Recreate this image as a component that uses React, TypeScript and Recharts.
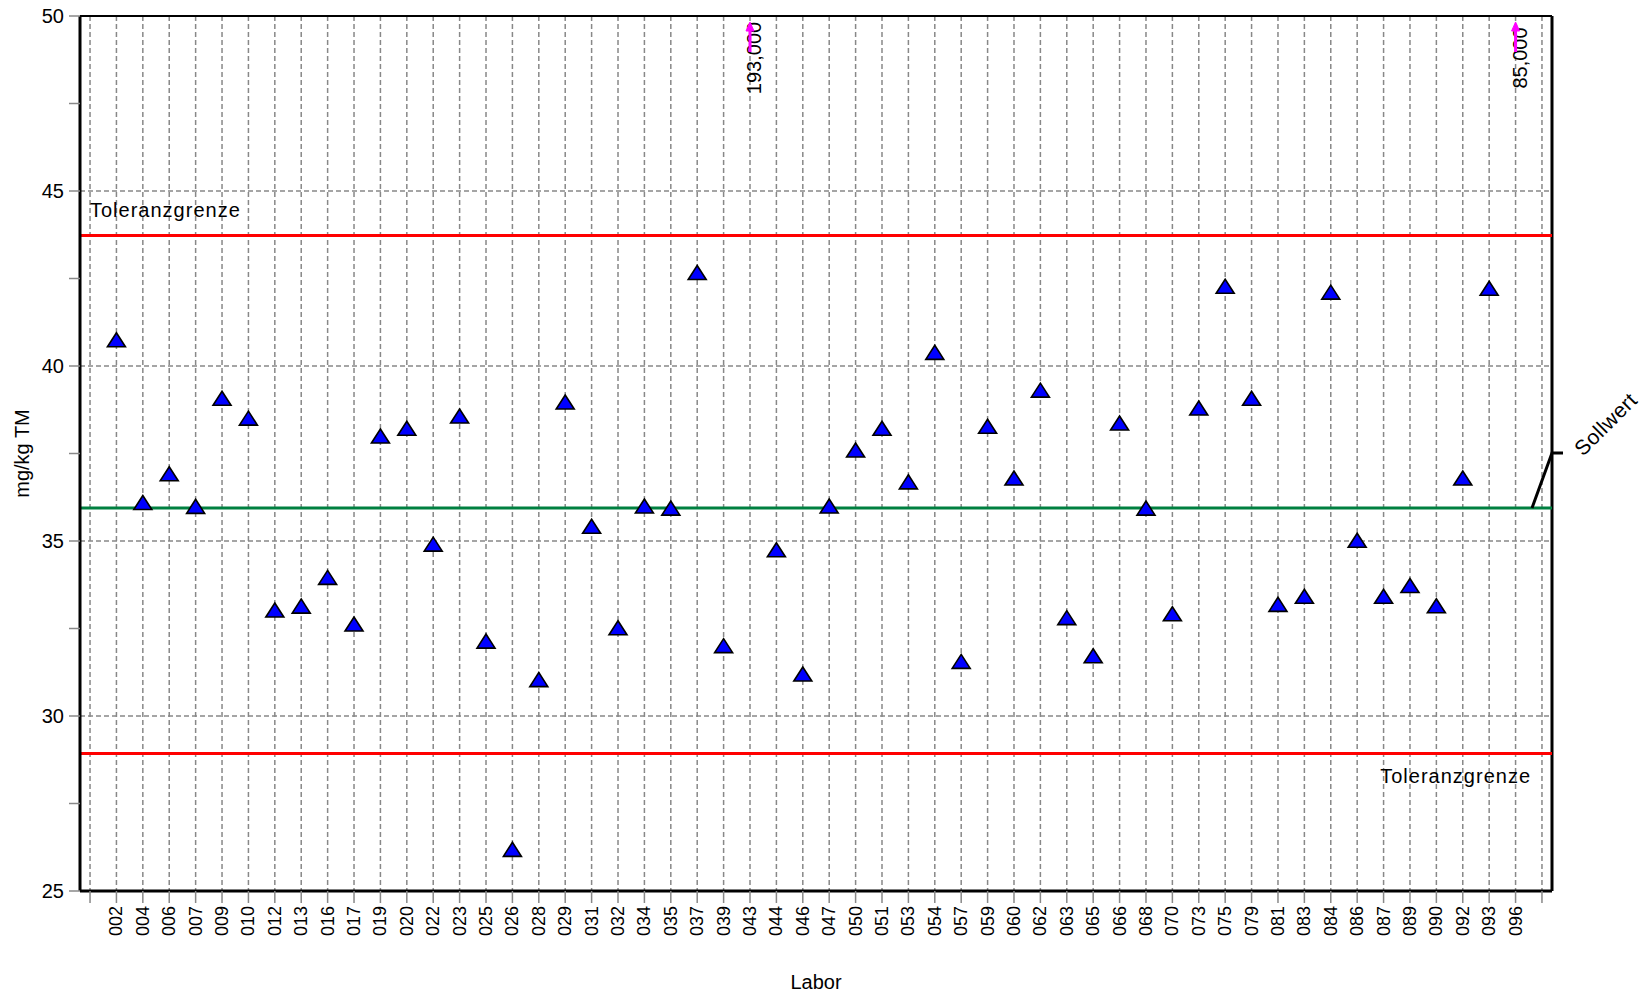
import React from "react";
import {
  ScatterChart,
  Scatter,
  XAxis,
  YAxis,
  CartesianGrid,
  ReferenceLine,
  Label,
} from "recharts";

// Labornummern (x-Achse)
const labs = [
  "002", "004", "006", "007", "009", "010", "012", "013", "016", "017",
  "019", "020", "022", "023", "025", "026", "028", "029", "031", "032",
  "034", "035", "037", "039", "043", "044", "046", "047", "050", "051",
  "053", "054", "057", "059", "060", "062", "063", "065", "066", "068",
  "070", "073", "075", "079", "081", "083", "084", "086", "087", "089",
  "090", "092", "093", "096",
];

// Messwerte in mg/kg TM (null = ausserhalb der Skala, siehe unten)
const values: (number | null)[] = [
  40.75, 36.1, 36.92, 35.99, 39.08, 38.51, 33.03, 33.14, 33.96, 32.63,
  38.0, 38.22, 34.91, 38.57, 32.14, 26.19, 31.04, 38.97, 35.42, 32.52,
  36.0, 35.94, 42.67, 32.01, null, 34.75, 31.2, 36.0, 37.6, 38.22,
  36.69, 40.39, 31.56, 38.28, 36.8, 39.31, 32.81, 31.72, 38.37, 35.94,
  32.92, 38.8, 42.28, 39.08, 33.19, 33.42, 42.11, 35.02, 33.42, 33.73,
  33.15, 36.8, 42.22, null,
];

const outlierLabs = ["043", "096"];
const outlierValues = [193.0, 85.0];

const sollwert = 35.94;
const toleranzOben = 43.73;
const toleranzUnten = 28.93;

const yTicks = [25, 27.5, 30, 32.5, 35, 37.5, 40, 42.5, 45, 47.5, 50];
const yGrid = [30, 35, 40, 45];

const FONT = "'Liberation Sans', Arial, sans-serif";
const PLOT_TOP = 16;
const X_MIN = -0.38;
const X_MAX = labs.length + 1.38;

const xTicks = Array.from({ length: labs.length + 2 }, (_, i) => i);
const points = labs
  .map((lab, i) => ({ x: i + 1, y: values[i], lab }))
  .filter((d) => d.y !== null);
const outliers = outlierLabs.map((lab, j) => ({
  x: labs.indexOf(lab) + 1,
  y: outlierValues[j],
  lab,
}));

const Triangle = (props: any) => {
  const { cx, cy } = props;
  if (cx == null || cy == null) return null;
  const w = 9;
  const h = 14;
  return (
    <polygon
      points={`${cx - w},${cy + h / 2} ${cx + w},${cy + h / 2} ${cx},${cy - h / 2}`}
      fill="#0000ff"
      stroke="#000"
      strokeWidth={1.6}
      strokeLinejoin="miter"
    />
  );
};

// Pfeil + Wert fuer Ergebnisse oberhalb der Skala
const OutlierMark = (props: any) => {
  const { cx, payload } = props;
  if (cx == null) return null;
  const txt = payload.y.toFixed(3).replace(".", ",");
  const ty = PLOT_TOP + 42;
  return (
    <g>
      <text
        x={cx + 11}
        y={ty}
        transform={`rotate(-90, ${cx + 11}, ${ty})`}
        textAnchor="middle"
        fontSize={20}
        fontFamily={FONT}
        fill="#000"
      >
        {txt}
      </text>
      <line x1={cx} y1={PLOT_TOP + 36} x2={cx} y2={PLOT_TOP + 8} stroke="#ff00ff" strokeWidth={3} />
      <path
        d={`M${cx - 4},${PLOT_TOP + 15} L${cx},${PLOT_TOP + 6} L${cx + 4},${PLOT_TOP + 15} Z`}
        fill="#ff00ff"
        stroke="#ff00ff"
        strokeWidth={1}
      />
    </g>
  );
};

const XTick = (props: any) => {
  const { x, y, payload } = props;
  const i = payload.value;
  const txt = i >= 1 && i <= labs.length ? labs[i - 1] : "";
  return (
    <text
      x={x}
      y={y}
      transform={`rotate(-90, ${x}, ${y})`}
      textAnchor="end"
      dominantBaseline="central"
      fontSize={18}
      fontFamily={FONT}
      fill="#000"
    >
      {txt}
    </text>
  );
};

const TolOben = (props: any) => {
  const vb = props.viewBox;
  return (
    <text
      x={vb.x + 10}
      y={vb.y - 18}
      fontSize={20}
      letterSpacing={1}
      fontFamily={FONT}
      fill="#000"
    >
      Toleranzgrenze
    </text>
  );
};

const TolUnten = (props: any) => {
  const vb = props.viewBox;
  return (
    <text
      x={vb.x + vb.width - 21}
      y={vb.y + 30}
      textAnchor="end"
      fontSize={20}
      letterSpacing={1}
      fontFamily={FONT}
      fill="#000"
    >
      Toleranzgrenze
    </text>
  );
};

const SollLabel = (props: any) => {
  const vb = props.viewBox;
  const r = vb.x + vb.width;
  const tx = r + 31;
  const ty = vb.y - 51;
  return (
    <g>
      <polyline
        points={`${r - 20},${vb.y} ${r},${vb.y - 55} ${r + 11},${vb.y - 55}`}
        fill="none"
        stroke="#000"
        strokeWidth={3}
      />
      <text
        x={tx}
        y={ty}
        transform={`rotate(-45, ${tx}, ${ty})`}
        fontSize={21}
        letterSpacing={0.5}
        fontFamily={FONT}
        fill="#000"
      >
        Sollwert
      </text>
    </g>
  );
};

export default function App() {
  return (
    <div style={{ position: "absolute", left: 0, top: 0, background: "#fff" }}>
      <ScatterChart
        width={1642}
        height={995}
        margin={{ top: PLOT_TOP, right: 90, bottom: 0, left: 0 }}
      >
        <CartesianGrid
          stroke="#888"
          strokeWidth={1.5}
          strokeDasharray="5 3"
          horizontalValues={yGrid}
        />
        <XAxis
          type="number"
          dataKey="x"
          domain={[X_MIN, X_MAX]}
          ticks={xTicks}
          interval={0}
          allowDataOverflow
          height={104}
          tick={<XTick />}
          tickSize={12}
          tickMargin={3}
          tickLine={{ stroke: "#888", strokeWidth: 1.5 }}
          axisLine={{ stroke: "#000", strokeWidth: 3 }}
        >
          <Label
            content={(p: any) => (
              <text
                x={p.viewBox.x + p.viewBox.width / 2}
                y={p.viewBox.y + 98}
                textAnchor="middle"
                fontSize={20}
                fontFamily={FONT}
                fill="#000"
              >
                Labor
              </text>
            )}
          />
        </XAxis>
        <YAxis
          type="number"
          dataKey="y"
          domain={[25, 50]}
          ticks={yTicks}
          interval={0}
          allowDataOverflow
          width={80}
          tickSize={11}
          tickMargin={5}
          tickFormatter={(v: number) => (v % 5 === 0 ? String(v) : "")}
          tick={{ fontSize: 20, fontFamily: FONT, fill: "#000" }}
          tickLine={{ stroke: "#888", strokeWidth: 1.5 }}
          axisLine={{ stroke: "#000", strokeWidth: 3 }}
        >
          <Label
            content={(p: any) => (
              <text
                x={29}
                y={p.viewBox.y + p.viewBox.height / 2}
                transform={`rotate(-90, 29, ${p.viewBox.y + p.viewBox.height / 2})`}
                textAnchor="middle"
                fontSize={20}
                fontFamily={FONT}
                fill="#000"
              >
                mg/kg TM
              </text>
            )}
          />
        </YAxis>
        <ReferenceLine y={50} stroke="#000" strokeWidth={2} />
        <ReferenceLine x={X_MAX} stroke="#000" strokeWidth={3} />
        <ReferenceLine y={toleranzOben} stroke="#ff0000" strokeWidth={3} label={<TolOben />} />
        <ReferenceLine y={toleranzUnten} stroke="#ff0000" strokeWidth={3} label={<TolUnten />} />
        <ReferenceLine y={sollwert} stroke="#008040" strokeWidth={3} label={<SollLabel />} />
        <Scatter data={points} shape={<Triangle />} isAnimationActive={false} />
        <Scatter data={outliers} shape={<OutlierMark />} isAnimationActive={false} />
      </ScatterChart>
    </div>
  );
}
